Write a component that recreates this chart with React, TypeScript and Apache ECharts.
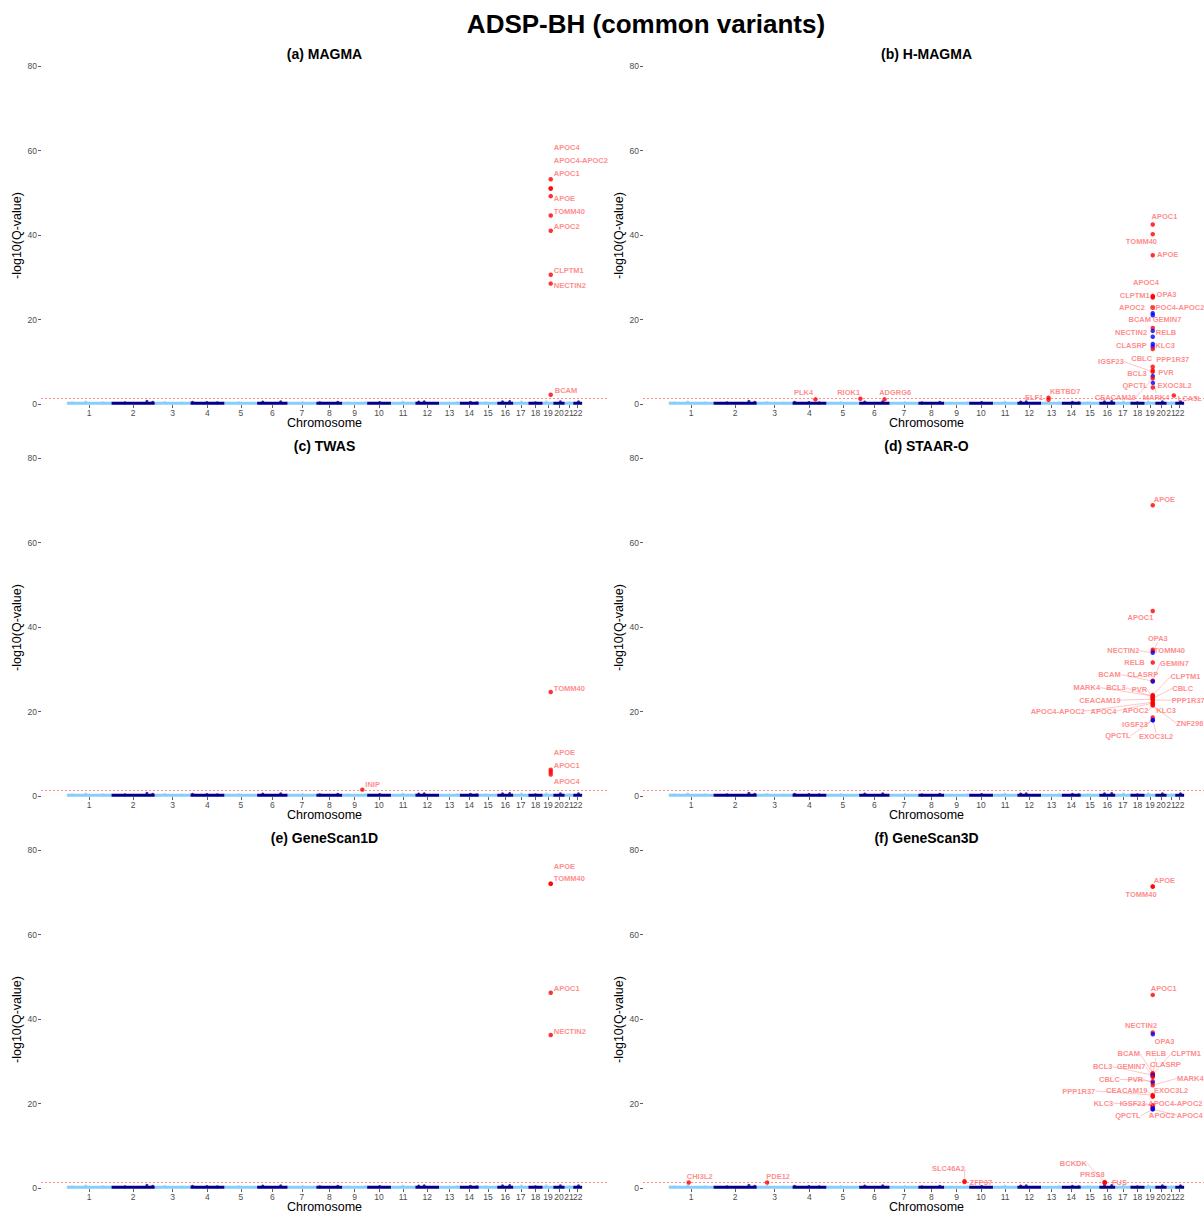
import React, { useEffect, useRef } from 'react';
import * as echarts from 'echarts';

// ---------- genome ----------
const chrNames = ['1','2','3','4','5','6','7','8','9','10','11','12','13','14','15','16','17','18','19','20','21','22'];
const chrLengthMb = [248.96, 242.19, 198.3, 190.21, 181.54, 170.81, 159.35, 145.14, 138.39, 133.8, 135.09, 133.28, 114.36, 107.04, 101.99, 90.34, 83.26, 80.37, 58.62, 64.44, 46.71, 50.82];

// gene loci: [chromosome, position Mb]
const geneLocus: Record<string, [number, number]> = {
  APOE: [19, 44.91], APOC1: [19, 44.91], APOC4: [19, 44.94], 'APOC4-APOC2': [19, 44.94], APOC2: [19, 44.95],
  TOMM40: [19, 44.89], NECTIN2: [19, 44.85], BCAM: [19, 44.81], CLPTM1: [19, 44.96], RELB: [19, 45.0],
  CLASRP: [19, 45.04], ZNF296: [19, 45.07], GEMIN7: [19, 45.09], PPP1R37: [19, 45.13], MARK4: [19, 45.08],
  EXOC3L2: [19, 45.21], BCL3: [19, 44.75], CBLC: [19, 44.78], PVR: [19, 44.65], CEACAM19: [19, 44.67],
  KLC3: [19, 45.33], IGSF23: [19, 44.61], QPCTL: [19, 45.69], OPA3: [19, 45.53],
  PLK4: [4, 128.8], RIOK1: [6, 7.39], ADGRG6: [6, 142.3], ELF1: [13, 41.0], KBTBD7: [13, 41.2],
  LCA5L: [21, 39.4], INIP: [9, 112.0], CHI3L2: [1, 111.2], PDE12: [3, 57.5], SLC46A2: [9, 112.9],
  ZFP37: [9, 113.0], BCKDK: [16, 31.1], PRSS8: [16, 31.0], FUS: [16, 31.2],
};

// background (non-significant) small peaks: chromosome, position Mb, -log10(Q)
const bumpChr = [1, 1, 1, 2, 2, 2, 3, 3, 4, 4, 4, 5, 6, 6, 7, 8, 8, 9, 9, 10, 11, 12, 12, 13, 14, 14, 15, 16, 16, 17, 18, 19, 20, 21, 22];
const bumpPos = [30, 106, 200, 75, 198, 230, 56, 150, 12, 92, 150, 80, 32, 132, 85, 20, 120, 35, 130, 70, 65, 19, 50, 100, 60, 95, 40, 30, 70, 45, 40, 20, 40, 30, 30];
const bumpQ = [0.3, 0.45, 0.3, 0.3, 0.65, 0.4, 0.35, 0.25, 0.4, 0.35, 0.3, 0.3, 0.45, 0.5, 0.3, 0.3, 0.4, 0.25, 0.3, 0.35, 0.4, 0.45, 0.55, 0.3, 0.4, 0.3, 0.3, 0.5, 0.6, 0.45, 0.3, 0.45, 0.5, 0.3, 0.55];

const yTicks = [0, 20, 40, 60, 80];
const qThreshold = 1.3; // -log10(0.05)

// ---------- panels ----------
const panelTitles = ['(a) MAGMA', '(b) H-MAGMA', '(c) TWAS', '(d) STAAR-O', '(e) GeneScan1D', '(f) GeneScan3D'];

const magmaGenes = ['APOC1', 'APOC4', 'APOC4-APOC2', 'APOE', 'TOMM40', 'APOC2', 'CLPTM1', 'NECTIN2', 'BCAM'];
const magmaQ = [53.2, 51.0, 51.0, 49.2, 44.6, 41.0, 30.6, 28.5, 2.2];
const magmaSet = ['r', 'r', 'r', 'r', 'r', 'r', 'r', 'r', 'r'];

const hmagmaGenes = ['APOC1', 'TOMM40', 'APOE', 'APOC4', 'OPA3', 'CLPTM1', 'APOC4-APOC2', 'APOC2', 'BCAM', 'GEMIN7', 'NECTIN2', 'RELB', 'CLASRP', 'KLC3', 'CBLC', 'PPP1R37', 'BCL3', 'PVR', 'IGSF23', 'MARK4', 'CEACAM19', 'QPCTL', 'EXOC3L2', 'LCA5L', 'KBTBD7', 'ELF1', 'PLK4', 'RIOK1', 'ADGRG6'];
const hmagmaQ = [42.5, 40.2, 35.2, 25.6, 25.4, 25.2, 22.9, 22.8, 21.5, 21.0, 18.0, 17.3, 15.9, 14.2, 13.6, 13.0, 8.8, 8.0, 7.6, 6.6, 6.1, 5.0, 3.9, 2.0, 1.5, 1.0, 1.1, 1.25, 1.1];
const hmagmaSet = ['r', 'r', 'r', 'r', 'r', 'r', 'r', 'r', 'b', 'b', 'r', 'b', 'b', 'b', 'b', 'r', 'r', 'r', 'r', 'b', 'r', 'b', 'r', 'r', 'r', 'r', 'r', 'r', 'r'];

const twasGenes = ['TOMM40', 'APOE', 'APOC1', 'APOC4', 'INIP'];
const twasQ = [24.6, 6.2, 5.7, 5.1, 1.5];
const twasSet = ['r', 'r', 'r', 'r', 'r'];

const staarGenes = ['APOE', 'APOC1', 'TOMM40', 'OPA3', 'NECTIN2', 'RELB', 'GEMIN7', 'BCAM', 'CLASRP', 'CLPTM1', 'MARK4', 'BCL3', 'PVR', 'CBLC', 'CEACAM19', 'PPP1R37', 'APOC4-APOC2', 'APOC4', 'APOC2', 'KLC3', 'ZNF296', 'IGSF23', 'QPCTL', 'EXOC3L2'];
const staarQ = [68.8, 43.8, 34.6, 34.3, 33.9, 31.6, 27.3, 27.2, 27.1, 23.9, 23.7, 23.5, 23.3, 23.1, 22.9, 22.7, 22.2, 22.0, 21.8, 21.6, 21.4, 18.6, 18.0, 17.9];
const staarSet = ['r', 'r', 'r', 'r', 'b', 'r', 'r', 'r', 'b', 'r', 'r', 'r', 'r', 'r', 'r', 'r', 'r', 'r', 'r', 'r', 'r', 'r', 'b', 'b'];

const gs1Genes = ['APOE', 'TOMM40', 'APOC1', 'NECTIN2'];
const gs1Q = [72.0, 72.0, 46.2, 36.2];
const gs1Set = ['r', 'r', 'r', 'r'];

const gs3Genes = ['APOE', 'TOMM40', 'APOC1', 'NECTIN2', 'OPA3', 'BCAM', 'RELB', 'CLPTM1', 'BCL3', 'GEMIN7', 'CLASRP', 'CBLC', 'PVR', 'MARK4', 'PPP1R37', 'CEACAM19', 'EXOC3L2', 'KLC3', 'IGSF23', 'APOC4-APOC2', 'APOC2', 'QPCTL', 'APOC4', 'CHI3L2', 'PDE12', 'SLC46A2', 'ZFP37', 'BCKDK', 'PRSS8', 'FUS'];
const gs3Q = [71.4, 71.3, 45.7, 36.8, 36.4, 27.2, 27.0, 26.9, 26.7, 26.5, 26.3, 25.3, 24.9, 24.3, 22.0, 21.8, 21.6, 19.6, 19.4, 19.2, 18.8, 18.7, 18.6, 1.3, 1.3, 1.6, 1.4, 1.3, 1.4, 1.2];
const gs3Set = ['r', 'r', 'r', 'r', 'b', 'r', 'r', 'r', 'b', 'b', 'r', 'r', 'b', 'r', 'r', 'r', 'r', 'r', 'r', 'r', 'b', 'b', 'b', 'r', 'r', 'r', 'r', 'r', 'r', 'r'];

// ---------- label placement (pixel offsets from the point: dx, dy, align, segment) ----------
type Place = [number, number, 'l' | 'c', boolean];
const placeA: Record<string, Place> = {
  APOC1: [3, -5.3, 'l', false], APOC4: [3, -40.7, 'l', false], 'APOC4-APOC2': [3, -27.7, 'l', false],
  APOE: [3, 2.7, 'l', false], TOMM40: [3, -4, 'l', false], APOC2: [3, -4, 'l', false],
  CLPTM1: [3, -4, 'l', false], NECTIN2: [3, 1.6, 'l', false], BCAM: [4, -4.7, 'l', false],
};
const placeB: Record<string, Place> = {
  APOC1: [11.7, -7.6, 'c', false], TOMM40: [-11.3, 7.8, 'c', false], APOE: [15, -1, 'c', false],
  APOC4: [-6.7, -13.1, 'c', false], OPA3: [13.7, -1.7, 'c', false], CLPTM1: [-18, -2.5, 'c', false],
  'APOC4-APOC2': [24.5, 0.5, 'c', false], APOC2: [-20.7, 0, 'c', false], BCAM: [-13, 6.1, 'c', false],
  GEMIN7: [14.3, 4, 'c', false], NECTIN2: [-21.7, 4.3, 'c', false], RELB: [13.3, 1.4, 'c', false],
  CLASRP: [-21.3, 8.2, 'c', false], KLC3: [12.3, 1, 'c', false], CBLC: [-11, 11.5, 'c', false],
  PPP1R37: [20, 10.9, 'c', false], BCL3: [-15.7, 6.5, 'c', false], PVR: [13.3, 2.5, 'c', false],
  IGSF23: [-41.7, -10.2, 'c', true], MARK4: [3.3, 21.2, 'c', true], CEACAM19: [-37.3, 19.1, 'c', true],
  QPCTL: [-17.7, 2.8, 'c', false], EXOC3L2: [21.7, -2.5, 'c', false], LCA5L: [16, 3, 'c', false],
  KBTBD7: [16.6, -6.4, 'c', false], ELF1: [-14.4, -2.5, 'c', false], PLK4: [-12, -6.6, 'c', false],
  RIOK1: [-11.7, -6, 'c', false], ADGRG6: [10.7, -6.6, 'c', false],
};
const placeC: Record<string, Place> = {
  TOMM40: [3, -4, 'l', false], APOE: [3, -17, 'l', false], APOC1: [3, -6, 'l', false],
  APOC4: [3, 6.7, 'l', false], INIP: [3, -4.7, 'l', false],
};
const placeD: Record<string, Place> = {
  APOE: [11.7, -6.3, 'c', false], APOC1: [-12.3, 6.7, 'c', false], TOMM40: [16.7, 0.9, 'c', false],
  OPA3: [5, -12.8, 'c', true], NECTIN2: [-29.3, -2.1, 'c', true], RELB: [-18.3, 0.2, 'c', false],
  GEMIN7: [21.7, -17.4, 'c', true], BCAM: [-43.3, -6.4, 'c', true], CLASRP: [-10, -6.8, 'c', false],
  CLPTM1: [32.7, -18.3, 'c', true], MARK4: [-66, -8.2, 'c', true], BCL3: [-36.7, -9, 'c', true],
  PVR: [-13.3, -8.3, 'c', true], CBLC: [30, -10.1, 'c', true], CEACAM19: [-52.7, 0.8, 'c', true],
  PPP1R37: [35.5, 0, 'c', true], 'APOC4-APOC2': [-95, 8.8, 'c', true], APOC4: [-49.3, 8, 'c', true],
  APOC2: [-17.3, 7.1, 'c', true], KLC3: [13.3, 5.3, 'c', true], ZNF296: [37, 17.7, 'c', true],
  IGSF23: [-17.7, 6.9, 'c', true], QPCTL: [-35, 16, 'c', true], EXOC3L2: [3.3, 16.3, 'c', true],
};
const placeE: Record<string, Place> = {
  APOE: [3, -17, 'l', false], TOMM40: [3, -5, 'l', false], APOC1: [3, -4.4, 'l', false], NECTIN2: [3, -4, 'l', false],
};
const placeF: Record<string, Place> = {
  APOE: [11.7, -6, 'c', false], TOMM40: [-11.7, 7.5, 'c', false], APOC1: [11, -6.2, 'c', false],
  NECTIN2: [-11.7, -7.2, 'c', false], OPA3: [11.7, 6.8, 'c', false], BCAM: [-24, -19.4, 'c', true],
  RELB: [3.3, -20.2, 'c', true], CLPTM1: [33.3, -20.6, 'c', true], BCL3: [-50, -8.5, 'c', true],
  GEMIN7: [-21.7, -9.3, 'c', true], CLASRP: [12.7, -11.9, 'c', true], CBLC: [-43.3, -1.8, 'c', true],
  PVR: [-17.3, -3.5, 'c', true], MARK4: [37.5, -7, 'c', true], PPP1R37: [-74, -4, 'c', true],
  CEACAM19: [-26, -4.9, 'c', true], EXOC3L2: [18.3, -6.4, 'c', false], KLC3: [-49.3, -1.9, 'c', true],
  IGSF23: [-20, -2.7, 'c', true], 'APOC4-APOC2': [22.7, -3.6, 'c', false], APOC2: [9.3, 7.4, 'c', true],
  QPCTL: [-25, 7, 'c', true], APOC4: [37, 5.6, 'c', true], CHI3L2: [11, -6.5, 'c', false],
  PDE12: [11, -6.5, 'c', false], SLC46A2: [-16, -12.6, 'c', true], ZFP37: [16.3, 0.6, 'c', false],
  BCKDK: [-31.3, -19.4, 'c', true], PRSS8: [-12.3, -7.5, 'c', false], FUS: [14.7, -0.4, 'c', false],
};

// ---------- style ----------
const FONT = '"Liberation Sans", Arial, Helvetica, sans-serif';
const LABEL_COLOR = '#ff6e6e';
const SEG_COLOR = '#ffa0a0';
const LIGHT = '#87cefa';
const DARK = '#00008b';
const RED = '#ff0000';
const BLUE = '#0000ff';

const gridLeft = [41, 643];
const gridTop = [66, 458, 850];
const GRID_W = 567;
const Y_MIN = -0.25;
const Y_MAX = 80;
const GRID_H = (Y_MAX - Y_MIN) * 4.225;

function buildOption() {
  const chrStart: number[] = [];
  let acc = 0;
  chrLengthMb.forEach((l) => { chrStart.push(acc); acc += l; });
  const genomeLen = acc;
  const chrCenter = chrStart.map((s, k) => s + chrLengthMb[k] / 2);
  const oddCenters = chrCenter.filter((_, k) => k % 2 === 0);
  const evenCenters = chrCenter.filter((_, k) => k % 2 === 1);
  const pad = genomeLen * 0.05;
  const X_MIN = -pad;
  const X_MAX = genomeLen + pad;
  const geneX = (g: string) => chrStart[geneLocus[g][0] - 1] + geneLocus[g][1];
  const nearestChr = (v: number) => {
    let best = 0;
    for (let k = 1; k < chrCenter.length; k++) if (Math.abs(chrCenter[k] - v) < Math.abs(chrCenter[best] - v)) best = k;
    return chrNames[best];
  };
  const band = (parity: number) => {
    const d: any[] = [];
    chrLengthMb.forEach((l, k) => {
      if (k % 2 !== parity) return;
      d.push([chrStart[k] + 0.5, 0.2], [chrStart[k] + l - 0.5, 0.2], [chrStart[k] + l, '-']);
    });
    return d;
  };
  const bumps = bumpChr.map((c, k) => ({
    value: [chrStart[c - 1] + bumpPos[k], bumpQ[k]],
    itemStyle: { color: (c - 1) % 2 === 0 ? LIGHT : DARK },
  }));

  const panels = [
    { genes: magmaGenes, q: magmaQ, set: magmaSet, place: placeA },
    { genes: hmagmaGenes, q: hmagmaQ, set: hmagmaSet, place: placeB },
    { genes: twasGenes, q: twasQ, set: twasSet, place: placeC },
    { genes: staarGenes, q: staarQ, set: staarSet, place: placeD },
    { genes: gs1Genes, q: gs1Q, set: gs1Set, place: placeE },
    { genes: gs3Genes, q: gs3Q, set: gs3Set, place: placeF },
  ];

  const grids: any[] = [];
  const xAxes: any[] = [];
  const yAxes: any[] = [];
  const series: any[] = [];
  const graphics: any[] = [
    {
      type: 'text', x: 646, y: 24,
      style: { text: 'ADSP-BH (common variants)', fontSize: 26, fontWeight: 'bold', fontFamily: FONT, fill: '#000', textAlign: 'center', textVerticalAlign: 'middle' },
    },
  ];

  const xLabelStyle = {
    show: true, formatter: (v: number) => nearestChr(v), color: '#4d4d4d',
    fontSize: 8.5, fontFamily: FONT, margin: 3, hideOverlap: false, showMinLabel: true, showMaxLabel: true,
  };

  panels.forEach((p, i) => {
    const col = i % 2;
    const row = Math.floor(i / 2);
    grids.push({ left: gridLeft[col], top: gridTop[row], width: GRID_W, height: GRID_H, containLabel: false, outerBoundsMode: 'none' });
    graphics.push({
      type: 'text', x: gridLeft[col] + GRID_W / 2, y: gridTop[row] - 12,
      style: { text: panelTitles[i], fontSize: 14, fontWeight: 'bold', fontFamily: FONT, fill: '#000', textAlign: 'center', textVerticalAlign: 'middle' },
    });
    // primary x axis: ticks for every chromosome, labels for odd chromosomes
    xAxes.push({
      type: 'value', gridIndex: i, min: X_MIN, max: X_MAX, position: 'bottom',
      axisLine: { show: false, onZero: false }, splitLine: { show: false },
      axisTick: { show: true, customValues: chrCenter, length: 3, lineStyle: { color: '#333', width: 0.8 } },
      axisLabel: { ...xLabelStyle, customValues: oddCenters },
      name: 'Chromosome', nameLocation: 'middle', nameGap: 11.5, nameMoveOverlap: false,
      nameTextStyle: { color: '#000', fontSize: 12.5, lineHeight: 12, fontFamily: FONT },
    });
    // secondary x axis on the same grid: labels for even chromosomes
    xAxes.push({
      type: 'value', gridIndex: i, min: X_MIN, max: X_MAX, position: 'bottom',
      axisLine: { show: false, onZero: false }, splitLine: { show: false },
      axisTick: { show: false },
      axisLabel: { ...xLabelStyle, customValues: evenCenters },
    });
    yAxes.push({
      type: 'value', gridIndex: i, min: Y_MIN, max: Y_MAX,
      axisLine: { show: false, onZero: false }, splitLine: { show: false },
      axisTick: { show: true, customValues: yTicks, length: 3, lineStyle: { color: '#333', width: 0.8 } },
      axisLabel: { show: true, customValues: yTicks, color: '#4d4d4d', fontSize: 8.5, fontFamily: FONT, margin: 4, showMinLabel: true, showMaxLabel: true },
      name: '-log10(Q-value)', nameLocation: 'middle', nameGap: 12, nameRotate: 90,
      nameTextStyle: { color: '#000', fontSize: 12.5, fontFamily: FONT },
    });
    const xi = 2 * i;
    series.push({
      type: 'line', xAxisIndex: xi, yAxisIndex: i, data: band(0), symbol: 'none', silent: true, connectNulls: false, z: 2,
      lineStyle: { color: LIGHT, width: 3, cap: 'butt' },
      markLine: {
        silent: true, symbol: 'none', label: { show: false },
        lineStyle: { color: '#ff8c8c', type: [2, 2], width: 1 },
        data: [{ yAxis: qThreshold }],
      },
    });
    series.push({
      type: 'line', xAxisIndex: xi, yAxisIndex: i, data: band(1), symbol: 'none', silent: true, connectNulls: false, z: 2,
      lineStyle: { color: DARK, width: 3, cap: 'butt' },
    });
    series.push({
      type: 'scatter', xAxisIndex: xi, yAxisIndex: i, data: bumps, symbolSize: 3, silent: true, z: 3,
    });
    const items = p.genes.map((g, k) => ({
      name: g,
      value: [geneX(g), p.q[k]],
      itemStyle: { color: p.set[k] === 'b' ? BLUE : RED },
      labelLine: { show: p.place[g] ? p.place[g][3] : false },
    }));
    series.push({
      type: 'scatter', xAxisIndex: xi, yAxisIndex: i, data: items, symbolSize: 4.5, z: 5, silent: true,
      label: { show: true, formatter: '{b}', color: LABEL_COLOR, fontSize: 7.5, fontWeight: 'bold', fontFamily: FONT, position: 'right' },
      labelLine: { show: false, lineStyle: { color: SEG_COLOR, width: 0.6 } },
      labelLayout: (lp: any) => {
        const it = items[lp.dataIndex];
        const pl: Place = p.place[it.name] || [3, -4, 'l', false];
        const cx = lp.rect.x + lp.rect.width / 2;
        const cy = lp.rect.y + lp.rect.height / 2;
        return { x: cx + pl[0], y: cy + pl[1], align: pl[2] === 'l' ? 'left' : 'center', verticalAlign: 'middle' };
      },
    });
  });

  return {
    animation: false,
    backgroundColor: '#ffffff',
    textStyle: { fontFamily: FONT },
    grid: grids,
    xAxis: xAxes,
    yAxis: yAxes,
    series,
    graphic: graphics,
  };
}

export default function App() {
  const ref = useRef<HTMLDivElement>(null);
  useEffect(() => {
    document.body.style.margin = '0';
    const chart = echarts.init(ref.current as HTMLDivElement, null, { renderer: 'svg' });
    chart.setOption(buildOption() as any);
    return () => chart.dispose();
  }, []);
  return <div ref={ref} style={{ width: 1204, height: 1213 }} />;
}
